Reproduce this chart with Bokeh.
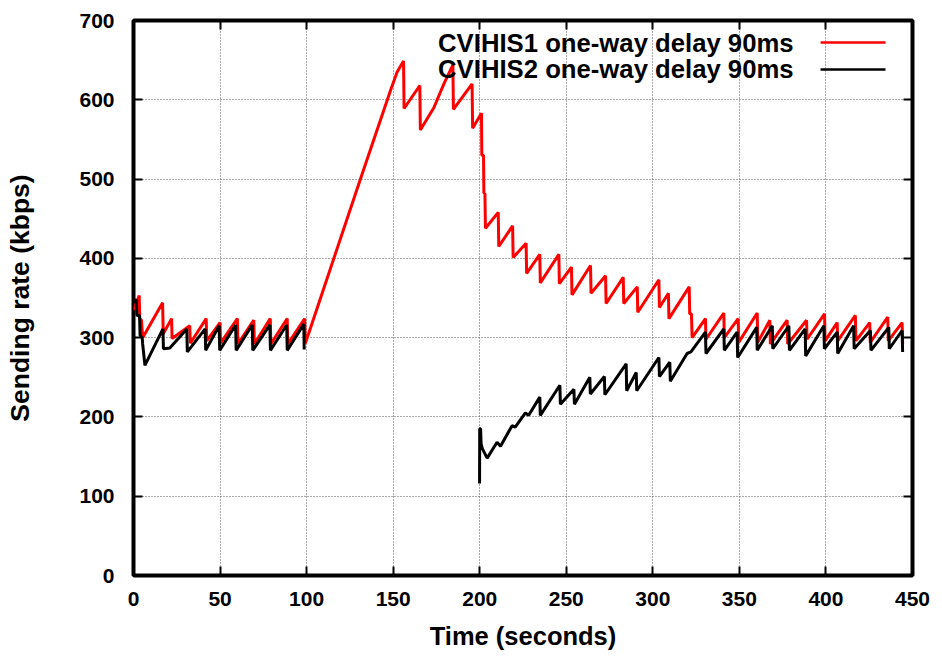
from bokeh.plotting import figure
from bokeh.models import LinearAxis, Range1d, SingleIntervalTicker, Label, BoxAnnotation
from bokeh.embed import file_html
from bokeh.resources import INLINE

# ---------------- data ----------------
NAN = float("nan")

# CVIHIS1 (red): time in seconds, sending rate in kbps
cvihis1_time = [0, 3.3, 3.6, 4.6, 5.3, 16.8, 17.2, 22.0, 22.3, 32.5, 32.8, 42.0, 42.3,
                50.0, 50.3, 60.0, 60.3, 69.5, 69.8, 79.0, 79.3, 88.8, 89.1, 98.9, 99.3,
                131.1, 148.5, 152.3, 156.0, 156.3, 165.4, 165.7, 173.5, 179.3, 184.5, 184.8,
                195.6, 195.9, 201.0, 201.2, 202.2, 202.4, 203.0, 203.3, 210.7, 211.0,
                219.0, 219.3, 226.8, 227.1, 234.7, 235.0, 245.7, 246.0, 253.0, 253.3,
                264.0, 264.3, 272.7, 273.0, 282.9, 283.2, 291.0, 291.3, 303.5, 303.8,
                309.0, 309.3, 321.0, 321.3, 322.3, 322.7, 330.4, 330.7, 341.0, 341.3,
                349.3, 349.6, 360.3, 360.6, 367.6, 367.9, 377.6, 377.9, 388.8, 389.1,
                399.2, 399.5, 406.5, 406.8, 417.0, 417.3, 425.3, 425.6, 435.7, 436.0,
                444.0, 444.3]
cvihis1_rate = [335, 353, 324, 322, 300, 344, 305, 324, 299, 315, 293, 324, 296,
                319, 293, 324, 292, 322, 292, 324, 292, 324, 292, 324, 293,
                500, 612, 635, 649, 589, 618, 562, 590, 620, 644, 588,
                620, 564, 583, 530, 530, 482, 482, 438, 458, 415,
                441, 401, 419, 381, 405, 369, 405, 368, 389, 354,
                391, 356, 378, 343, 376, 343, 364, 332, 373, 338,
                356, 324, 364, 330, 330, 300, 324, 298, 331, 300,
                324, 294, 331, 294, 322, 292, 322, 292, 322, 298,
                330, 296, 319, 296, 328, 296, 319, 294, 326, 296,
                319, 292]

# CVIHIS2 (black): two active periods, separated by a gap (NaN)
cvihis2_time = [0, 1.5, 2.0, 3.5, 3.8, 5.0, 5.3, 6.6, 17.0, 17.3, 21.0, 30.8, 31.1,
                41.4, 41.7, 49.5, 49.8, 59.0, 59.3, 68.6, 68.9, 78.8, 79.1, 88.5, 88.8,
                98.4, 98.6, NAN,
                199.9, 200.0, 200.5, 200.8, 201.5, 204.3, 210.0, 212.0, 218.7, 220.5,
                226.4, 228.3, 234.7, 235.0, 246.3, 246.6, 254.4, 254.7, 263.6, 263.9,
                272.0, 272.3, 284.6, 284.9, 290.4, 290.7, 303.5, 303.8, 309.8, 310.1,
                319.8, 322.0, 330.4, 330.7, 341.0, 341.3, 348.7, 349.0, 360.0, 360.3,
                369.0, 369.3, 378.6, 378.9, 388.0, 388.3, 398.8, 399.1, 406.5, 406.8,
                416.0, 416.3, 425.7, 426.0, 436.3, 436.6, 444.0, 444.3]
cvihis2_rate = [345, 348, 328, 328, 303, 300, 292, 265, 311, 286, 287, 311, 282,
                311, 284, 315, 284, 316, 284, 316, 284, 316, 284, 316, 284,
                317, 285, NAN,
                116, 185, 185, 166, 160, 148, 168, 163, 189, 187,
                205, 202, 225, 202, 240, 216, 235, 216, 250, 229,
                251, 228, 267, 233, 256, 233, 275, 251, 269, 245,
                280, 282, 307, 280, 311, 284, 307, 275, 313, 284,
                315, 286, 315, 284, 311, 277, 315, 286, 307, 280,
                315, 286, 309, 284, 313, 286, 309, 282]

series_labels = ["CVIHIS1 one-way delay 90ms", "CVIHIS2 one-way delay 90ms"]
series_colors = ["#ff0000", "#000000"]

x_label = "Time (seconds)"
y_label = "Sending rate (kbps)"

# ---------------- layout constants ----------------
FONT = "Liberation Sans"
X_MIN, X_MAX, X_STEP = 0, 450, 50
Y_MIN, Y_MAX, Y_STEP = 0, 700, 100

p = figure(width=942, height=657, output_backend="svg", toolbar_location=None,
           x_range=Range1d(X_MIN, X_MAX), y_range=Range1d(Y_MIN, Y_MAX),
           min_border_left=133, min_border_right=30, min_border_top=20, min_border_bottom=82,
           x_axis_location=None, y_axis_location=None)

p.background_fill_color = "white"
p.border_fill_color = "white"
p.outline_line_color = "black"
p.outline_line_width = 4

xt = SingleIntervalTicker(interval=X_STEP, num_minor_ticks=0)
yt = SingleIntervalTicker(interval=Y_STEP, num_minor_ticks=0)

def style_axis(ax, labels=True, label_size="25px"):
    ax.axis_line_color = None
    ax.major_tick_in = 9
    ax.major_tick_out = 0
    ax.major_tick_line_color = "black"
    ax.major_tick_line_width = 2
    ax.minor_tick_in = 0
    ax.minor_tick_out = 0
    if labels:
        ax.major_label_text_font = FONT
        ax.major_label_text_font_size = "21px"
        ax.major_label_text_font_style = "bold"
        ax.major_label_text_color = "black"
        ax.axis_label_text_font = FONT
        ax.axis_label_text_font_size = label_size
        ax.axis_label_text_font_style = "bold"
        ax.axis_label_text_color = "black"
    else:
        # mirrored tick marks only: labels are switched off entirely
        ax.major_label_text_font_size = "1px"
        ax.major_label_text_color = None
        ax.major_label_standoff = 0

xb = LinearAxis(ticker=xt, axis_label=x_label)
style_axis(xb, label_size="25.5px")
xb.major_label_standoff = 16
xb.axis_label_standoff = 13
p.add_layout(xb, "below")

yl = LinearAxis(ticker=yt, axis_label=y_label)
style_axis(yl, label_size="26.5px")
yl.major_label_standoff = 19
yl.axis_label_standoff = 41
p.add_layout(yl, "left")

xa = LinearAxis(ticker=xt)
style_axis(xa, labels=False)
p.add_layout(xa, "above")

yr = LinearAxis(ticker=yt)
style_axis(yr, labels=False)
p.add_layout(yr, "right")

p.xgrid.ticker = xt
p.ygrid.ticker = yt
for g in (p.xgrid, p.ygrid):
    g.grid_line_color = "#555555"
    g.grid_line_width = 1
    g.grid_line_dash = "1 2"

p.line(cvihis1_time, cvihis1_rate, line_color=series_colors[0], line_width=3)
p.line(cvihis2_time, cvihis2_rate, line_color=series_colors[1], line_width=3)

# gnuplot-style key: text first, then the line sample (placed in the top-right corner)
KEY_TEXT_X = 381.3
KEY_Y = [672.2, 638.2]
KEY_LINE_X0, KEY_LINE_X1 = 396.9, 434.4
KEY_HALF = 1.6
for lab, col, ky in zip(series_labels, series_colors, KEY_Y):
    p.add_layout(Label(x=KEY_TEXT_X, y=ky, text=lab, text_align="right", text_baseline="middle",
                       text_font=FONT, text_font_size="25.7px", text_font_style="bold",
                       text_color="black"))
    p.add_layout(BoxAnnotation(left=KEY_LINE_X0, right=KEY_LINE_X1, bottom=ky - KEY_HALF,
                               top=ky + KEY_HALF, fill_color=col, fill_alpha=1, line_color=None))

open("out.html", "w").write(file_html(p, INLINE))
